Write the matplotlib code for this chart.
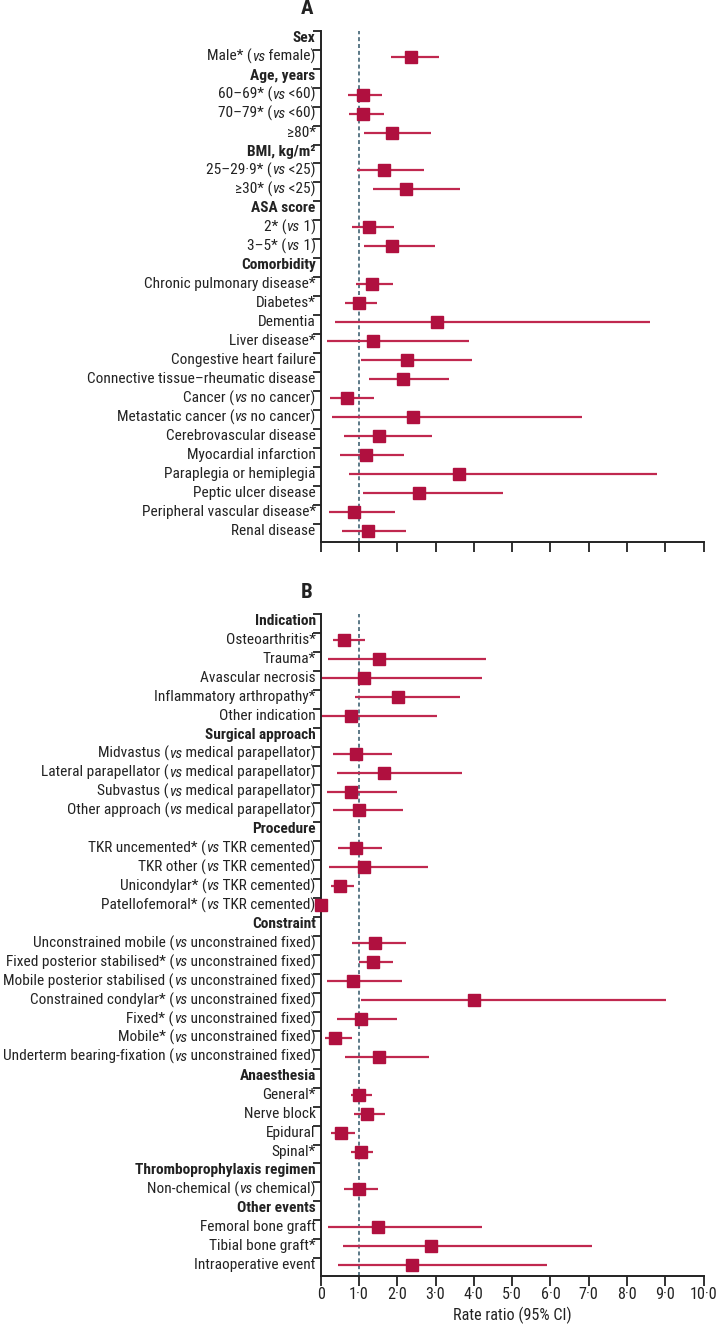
import os
import matplotlib
matplotlib.use("Agg")
import matplotlib.pyplot as plt
import matplotlib.transforms as mtransforms
from matplotlib import font_manager as fm
from matplotlib.ticker import FixedLocator

# ---------------- Panel A data ----------------
labels_a = [
    "Sex", "Male* (vs female)",
    "Age, years", "60–69* (vs <60)", "70–79* (vs <60)", "≥80*",
    "BMI, kg/m²", "25–29·9* (vs <25)", "≥30* (vs <25)",
    "ASA score", "2* (vs 1)", "3–5* (vs 1)",
    "Comorbidity", "Chronic pulmonary disease*", "Diabetes*", "Dementia", "Liver disease*",
    "Congestive heart failure", "Connective tissue–rheumatic disease",
    "Cancer (vs no cancer)", "Metastatic cancer (vs no cancer)",
    "Cerebrovascular disease", "Myocardial infarction", "Paraplegia or hemiplegia",
    "Peptic ulcer disease", "Peripheral vascular disease*", "Renal disease",
]
header_a = [True, False, True, False, False, False, True, False, False, True, False, False,
            True, False, False, False, False, False, False, False, False, False, False, False,
            False, False, False]
est_a = [None, 2.37, None, 1.11, 1.11, 1.86, None, 1.65, 2.23, None, 1.25, 1.86,
         None, 1.35, 1.00, 3.04, 1.37, 2.25, 2.16, 0.70, 2.41, 1.53, 1.18, 3.61, 2.58, 0.88, 1.24]
lo_a = [None, 1.83, None, 0.72, 0.75, 1.14, None, 0.96, 1.37, None, 0.82, 1.13,
        None, 0.92, 0.64, 0.37, 0.17, 1.06, 1.27, 0.25, 0.29, 0.60, 0.51, 0.73, 1.11, 0.22, 0.55]
hi_a = [None, 3.10, None, 1.60, 1.65, 2.88, None, 2.70, 3.64, None, 1.92, 2.98,
        None, 1.89, 1.47, 8.60, 3.87, 3.94, 3.35, 1.40, 6.83, 2.90, 2.17, 8.78, 4.75, 1.95, 2.22]

# ---------------- Panel B data ----------------
labels_b = [
    "Indication", "Osteoarthritis*", "Trauma*", "Avascular necrosis", "Inflammatory arthropathy*",
    "Other indication",
    "Surgical approach", "Midvastus (vs medical parapellator)",
    "Lateral parapellator (vs medical parapellator)",
    "Subvastus (vs medical parapellator)", "Other approach (vs medical parapellator)",
    "Procedure", "TKR uncemented* (vs TKR cemented)", "TKR other (vs TKR cemented)",
    "Unicondylar* (vs TKR cemented)", "Patellofemoral* (vs TKR cemented)",
    "Constraint", "Unconstrained mobile (vs unconstrained fixed)",
    "Fixed posterior stabilised* (vs unconstrained fixed)",
    "Mobile posterior stabilised (vs unconstrained fixed)",
    "Constrained condylar* (vs unconstrained fixed)",
    "Fixed* (vs unconstrained fixed)", "Mobile* (vs unconstrained fixed)",
    "Underterm bearing-fixation (vs unconstrained fixed)",
    "Anaesthesia", "General*", "Nerve block", "Epidural", "Spinal*",
    "Thromboprophylaxis regimen", "Non-chemical (vs chemical)",
    "Other events", "Femoral bone graft", "Tibial bone graft*", "Intraoperative event",
]
header_b = [True, False, False, False, False, False,
            True, False, False, False, False,
            True, False, False, False, False,
            True, False, False, False, False, False, False, False,
            True, False, False, False, False,
            True, False,
            True, False, False, False]
est_b = [None, 0.60, 1.53, 1.13, 2.03, 0.80,
         None, 0.92, 1.65, 0.80, 1.00,
         None, 0.92, 1.13, 0.51, 0.02,
         None, 1.41, 1.37, 0.84, 4.00, 1.04, 0.38, 1.53,
         None, 1.01, 1.22, 0.54, 1.04,
         None, 0.99,
         None, 1.49, 2.89, 2.39]
lo_b = [None, 0.32, 0.18, 0.00, 0.89, 0.00,
        None, 0.32, 0.43, 0.17, 0.31,
        None, 0.44, 0.21, 0.26, 0.00,
        None, 0.81, 1.00, 0.17, 1.05, 0.42, 0.10, 0.63,
        None, 0.78, 0.86, 0.27, 0.78,
        None, 0.61,
        None, 0.18, 0.58, 0.45]
hi_b = [None, 1.16, 4.31, 4.21, 3.64, 3.05,
        None, 1.85, 3.69, 1.99, 2.15,
        None, 1.61, 2.79, 0.86, 0.02,
        None, 2.22, 1.89, 2.12, 9.01, 2.00, 0.81, 2.84,
        None, 1.35, 1.67, 0.89, 1.37,
        None, 1.49,
        None, 4.22, 7.10, 5.92]

xticks = [0, 1, 2, 3, 4, 5, 6, 7, 8, 9, 10]
xticklabels = ["0", "1·0", "2·0", "3·0", "4·0", "5·0", "6·0", "7·0", "8·0", "9·0", "10·0"]

# ---------------- fonts: pick a condensed face if available ----------------
def _find(prefixes):
    for f in fm.fontManager.ttflist:
        b = os.path.basename(f.fname).lower()
        for p in prefixes:
            if b.startswith(p):
                return f.fname
    return None

CHOICES = [
    ("liberationsansnarrow-regular", "liberationsansnarrow-bold", "liberationsansnarrow-italic"),
    ("robotocondensed-regular", "robotocondensed-bold", "robotocondensed-italic"),
    ("dejavusanscondensed.", "dejavusanscondensed-bold.", "dejavusanscondensed-oblique."),
]
FP_REG = FP_BOLD = FP_IT = None
for r, bd, it in CHOICES:
    fr, fb, fi = _find([r]), _find([bd]), _find([it])
    if fr and fb:
        FP_REG = fm.FontProperties(fname=fr)
        FP_BOLD = fm.FontProperties(fname=fb)
        FP_IT = fm.FontProperties(fname=fi) if fi else fm.FontProperties(fname=fr)
        break
if FP_REG is None:
    FP_REG = fm.FontProperties(family="Roboto")
    FP_BOLD = fm.FontProperties(family="Roboto", weight="bold")
    FP_IT = fm.FontProperties(family="Roboto", style="italic")

RED = "#B0103F"
LINE = "#C0284F"
DASH = "#4E6E7E"
AXC = "#222222"

W, H = 716, 1326
fig = plt.figure(figsize=(W / 100, H / 100), dpi=100)
renderer = fig.canvas.get_renderer()


def text_width(s, fp, size):
    t = fig.text(0, 0, s, fontproperties=fp, fontsize=size)
    w = t.get_window_extent(renderer).width
    t.remove()
    return w


# size the text so that a reference label has the width seen in the chart
FS = 10.0 * 226.0 / text_width("Connective tissue–rheumatic disease", FP_REG, 10.0)
FS = min(FS, 12.0)

x0, x1 = 320.7, 703.5


def draw_label(ax, trans, y, label, bold):
    fp = FP_BOLD if bold else FP_REG
    right_px = -5.0
    if "(vs " in label:
        k = label.index("(vs ")
        parts = [(label[:k + 1], FP_REG), ("vs", FP_IT), (label[k + 3:], FP_REG)]
    else:
        parts = [(label, fp)]
    off = right_px
    for s, p in reversed(parts):
        ax.annotate(s, xy=(0, y), xycoords=trans, xytext=(off * 72 / 100, 0),
                    textcoords="offset points", ha="right", va="center",
                    fontproperties=p, fontsize=FS, color=AXC, annotation_clip=False)
        off -= text_width(s, p, FS)


def panel(top_px, bottom_px, labels, header, est, lo, hi, show_xlabels, title, title_y):
    n = len(labels)
    ax = fig.add_axes([x0 / W, 1 - bottom_px / H, (x1 - x0) / W, (bottom_px - top_px) / H])
    first_row_px = top_px + 7.0
    last_row_px = bottom_px - 10.8
    sp = (last_row_px - first_row_px) / (n - 1)
    ytop = -(first_row_px - top_px) / sp
    ybot = (n - 1) + (bottom_px - last_row_px) / sp
    ax.set_ylim(ybot, ytop)
    ax.set_xlim(0, 10)
    for s in ["top", "right"]:
        ax.spines[s].set_visible(False)
    for s in ["left", "bottom"]:
        ax.spines[s].set_linewidth(1.4)
        ax.spines[s].set_color(AXC)
    ax.yaxis.set_major_locator(FixedLocator([r + ytop for r in range(n)]))
    ax.set_yticklabels([])
    ax.tick_params(axis="y", length=6, width=1.3, color=AXC, direction="out")
    ax.set_xticks(xticks)
    ax.tick_params(axis="x", length=7, width=1.3, color=AXC, direction="out", pad=1)
    if show_xlabels:
        ax.set_xticklabels(xticklabels, fontproperties=FP_REG, fontsize=FS + 0.5, color=AXC)
        ax.set_xlabel("Rate ratio (95% CI)", fontproperties=FP_REG, fontsize=FS + 0.5,
                      color=AXC, labelpad=3)
    else:
        ax.set_xticklabels([])
    ax.axvline(1.0, color=DASH, lw=1.3, ls=(0, (2.2, 1.6)), zorder=1)
    trans = mtransforms.blended_transform_factory(ax.transAxes, ax.transData)
    for i, (lab, hd) in enumerate(zip(labels, header)):
        draw_label(ax, trans, i, lab, hd)
    for i, (e, l, h) in enumerate(zip(est, lo, hi)):
        if e is None:
            continue
        ax.plot([l, h], [i, i], color=LINE, lw=1.6, solid_capstyle="butt", zorder=2, clip_on=False)
        ax.plot([e], [i], marker="s", ms=9.3, color=RED, mec=RED, zorder=3, clip_on=False)
    fig.text(307 / W, 1 - title_y / H, title, ha="center", va="center", fontproperties=FP_BOLD,
             fontsize=15, color=AXC)
    return ax


panel(30.7, 541.7, labels_a, header_a, est_a, lo_a, hi_a, False, "A", 9)
panel(614.0, 1276.0, labels_b, header_b, est_b, lo_b, hi_b, True, "B", 592)

fig.savefig("out.png", dpi=100)
